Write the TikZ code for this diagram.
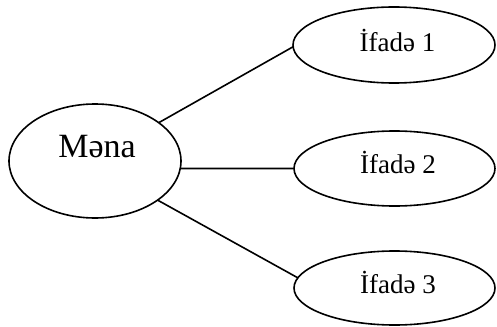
\documentclass[tikz,border=0pt]{standalone}
\usepackage{fontspec}
\setmainfont{Liberation Serif}
\usetikzlibrary{shapes.geometric}
\begin{document}
\begin{tikzpicture}[x=1pt,y=-1pt,
  oval/.style={ellipse,draw=black,line width=1.6pt,inner sep=0pt,outer sep=0pt},
  link/.style={draw=black,line width=1.6pt},
  bigtxt/.style={inner sep=0pt,anchor=base,font=\rmfamily\fontsize{34}{38}\selectfont},
  smalltxt/.style={inner sep=0pt,anchor=base,font=\rmfamily\fontsize{27}{31}\selectfont}]
\useasboundingbox (0,0) rectangle (497,326);
\node[oval,minimum width=172pt,minimum height=114pt] (m) at (95,161) {};
\node[oval,minimum width=202pt,minimum height=76pt] (e1) at (394,45) {};
\node[oval,minimum width=201pt,minimum height=75pt] (e2) at (394.5,168.5) {};
\node[oval,minimum width=201pt,minimum height=74pt] (e3) at (394.5,288) {};
\node[bigtxt] (tm) at (97,157) {Məna};
\node[smalltxt] (t1) at (397.5,52) {İfadə 1};
\node[smalltxt] (t2) at (398,173) {İfadə 2};
\node[smalltxt] (t3) at (398,293) {İfadə 3};
\draw[link] (m.31) -- (e1.181);
\draw[link] (m.-5) -- (e2.west);
\draw[link] (m.-32) -- (e3.174);
\end{tikzpicture}
\end{document}
